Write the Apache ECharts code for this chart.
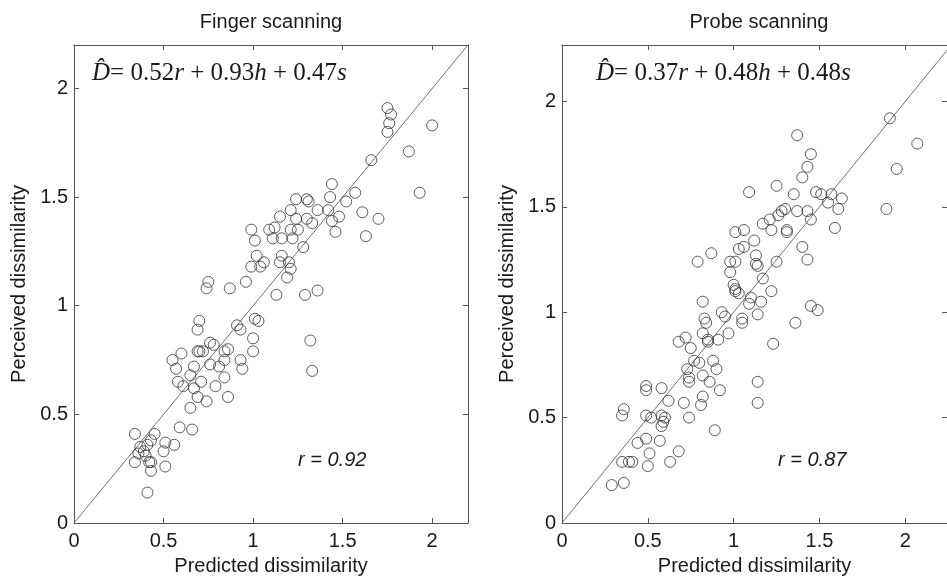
<!DOCTYPE html>
<html>
<head>
<meta charset="utf-8">
<script src="https://cdn.jsdelivr.net/npm/echarts@6/dist/echarts.min.js"></script>
<style>
  html, body { margin: 0; padding: 0; background: #fff; }
  #chart { width: 947px; height: 581px; }
</style>
</head>
<body>
<div id="chart"></div>
<script>
// Tick values shown on both axes of each panel
const tickValues = [0, 0.5, 1, 1.5, 2];

// Finger scanning: predicted vs perceived dissimilarity
const fingerPredicted = [
  1.75, 1.77, 1.76, 1.75, 2.00, 1.87, 1.66, 1.93, 1.44, 1.43,
  1.57, 1.52, 1.24, 1.30, 1.31, 1.21, 1.36, 1.42, 1.61, 1.70,
  1.48, 1.15, 1.24, 1.30, 1.44, 1.33, 0.99, 1.09, 1.12, 1.21,
  1.25, 1.46, 1.63, 1.01, 1.11, 1.16, 1.22, 1.28, 1.02, 1.16,
  0.99, 1.06, 1.04, 1.15, 1.20, 1.21, 1.19, 0.96, 0.75, 0.74,
  0.87, 1.13, 1.29, 1.36, 0.70, 0.69, 0.91, 0.93, 1.01, 1.03,
  1.32, 1.33, 1.00, 1.00, 0.76, 0.78, 0.70, 0.72, 0.69, 0.55,
  0.60, 0.57, 0.65, 0.67, 0.71, 0.58, 0.61, 0.67, 0.69, 0.74,
  0.65, 0.76, 0.81, 0.84, 0.86, 0.84, 0.84, 0.79, 0.86, 0.93,
  0.94, 0.59, 0.66, 0.34, 0.45, 0.43, 0.37, 0.41, 0.51, 0.56,
  0.50, 0.36, 0.40, 0.34, 0.42, 0.43, 0.51, 0.43, 0.41, 0.39
];
const fingerPerceived = [
  1.91, 1.88, 1.84, 1.80, 1.83, 1.71, 1.67, 1.52, 1.56, 1.50,
  1.52, 1.48, 1.49, 1.49, 1.48, 1.44, 1.44, 1.44, 1.43, 1.40,
  1.41, 1.41, 1.40, 1.40, 1.39, 1.38, 1.35, 1.35, 1.36, 1.35,
  1.35, 1.34, 1.32, 1.30, 1.31, 1.31, 1.31, 1.27, 1.23, 1.23,
  1.18, 1.20, 1.18, 1.20, 1.20, 1.17, 1.13, 1.11, 1.11, 1.08,
  1.08, 1.05, 1.05, 1.07, 0.93, 0.89, 0.91, 0.89, 0.94, 0.93,
  0.84, 0.70, 0.85, 0.79, 0.83, 0.82, 0.79, 0.79, 0.79, 0.75,
  0.78, 0.71, 0.68, 0.72, 0.65, 0.65, 0.63, 0.62, 0.58, 0.56,
  0.53, 0.73, 0.72, 0.75, 0.80, 0.79, 0.67, 0.63, 0.58, 0.75,
  0.71, 0.44, 0.43, 0.41, 0.41, 0.38, 0.35, 0.36, 0.37, 0.36,
  0.33, 0.32, 0.31, 0.28, 0.28, 0.28, 0.26, 0.24, 0.14, 0.33
];

// Probe scanning: predicted vs perceived dissimilarity
const probePredicted = [
  1.91, 2.07, 1.95, 1.89, 1.37, 1.45, 1.43, 1.40, 1.25, 1.09,
  1.35, 1.48, 1.51, 1.57, 1.63, 1.55, 1.61, 1.43, 1.45, 1.37,
  1.30, 1.28, 1.26, 1.21, 1.17, 1.22, 1.31, 1.31, 1.59, 1.06,
  1.01, 1.12, 1.06, 1.03, 1.40, 1.43, 1.25, 1.13, 1.13, 1.14,
  0.98, 1.01, 0.87, 0.79, 0.98, 1.00, 1.01, 1.17, 1.22, 0.82,
  1.01, 1.03, 1.10, 1.09, 1.16, 1.14, 1.45, 1.49, 1.36, 1.23,
  0.93, 0.95, 1.05, 1.05, 0.97, 0.83, 0.84, 0.82, 0.85, 0.85,
  0.91, 0.68, 0.72, 0.75, 0.77, 0.80, 0.73, 0.74, 0.74, 0.88,
  0.90, 0.82, 0.86, 0.92, 0.82, 0.81, 0.71, 0.74, 0.89, 1.14,
  1.14, 0.58, 0.62, 0.49, 0.49, 0.36, 0.35, 0.49, 0.52, 0.58,
  0.60, 0.59, 0.58, 0.44, 0.49, 0.57, 0.51, 0.50, 0.63, 0.68,
  0.35, 0.39, 0.41, 0.29, 0.36
];
const probePerceived = [
  1.92, 1.80, 1.68, 1.49, 1.84, 1.75, 1.69, 1.64, 1.60, 1.57,
  1.56, 1.57, 1.56, 1.56, 1.54, 1.52, 1.49, 1.48, 1.44, 1.48,
  1.49, 1.48, 1.46, 1.44, 1.42, 1.39, 1.39, 1.38, 1.40, 1.39,
  1.38, 1.34, 1.31, 1.30, 1.31, 1.25, 1.24, 1.27, 1.23, 1.22,
  1.24, 1.24, 1.28, 1.24, 1.19, 1.13, 1.11, 1.16, 1.10, 1.05,
  1.10, 1.09, 1.07, 1.04, 1.05, 0.99, 1.03, 1.01, 0.95, 0.85,
  1.00, 0.98, 0.97, 0.95, 0.90, 0.97, 0.95, 0.90, 0.87, 0.86,
  0.87, 0.86, 0.88, 0.83, 0.77, 0.76, 0.73, 0.69, 0.67, 0.77,
  0.73, 0.70, 0.67, 0.63, 0.60, 0.56, 0.57, 0.50, 0.44, 0.67,
  0.57, 0.64, 0.58, 0.65, 0.63, 0.54, 0.51, 0.51, 0.50, 0.51,
  0.50, 0.48, 0.46, 0.38, 0.40, 0.39, 0.33, 0.27, 0.29, 0.34,
  0.29, 0.29, 0.29, 0.18, 0.19
];

const panelTitles = ['Finger scanning', 'Probe scanning'];
const correlations = ['r = 0.92', 'r = 0.87'];
const fitWeights = [
  ['0.52', '0.93', '0.47'],
  ['0.37', '0.48', '0.48']
];
const xLabel = 'Predicted dissimilarity';
const yLabel = 'Perceived dissimilarity';

const zip = (a, b) => a.map((v, i) => [v, b[i]]);

const INK = '#1a1a1a';
const FRAME = '#555';
const SANS = '"Liberation Sans", Arial, sans-serif';
const SERIF = '"Liberation Serif", "Times New Roman", serif';

const panels = [
  { left: 74, top: 45, width: 394, height: 479, xMax: 2.2, yMax: 2.2 },
  { left: 562, top: 45, width: 389, height: 480, xMax: 2.243, yMax: 2.268 }
];

function showTick(v) {
  return tickValues.some(t => Math.abs(t - v) < 1e-6);
}

function makeAxis(gridIndex, position, max, withLabels, name) {
  const isX = position === 'bottom' || position === 'top';
  const ax = {
    type: 'value',
    gridIndex,
    position,
    min: 0,
    max,
    interval: 0.5,
    splitLine: { show: false },
    axisLine: { show: true, onZero: false, lineStyle: { color: FRAME, width: 1 } },
    axisTick: { show: true, inside: true, length: 5, lineStyle: { color: FRAME, width: 1 } },
    axisLabel: {
      show: withLabels,
      showMaxLabel: false,
      color: INK,
      fontFamily: SANS,
      fontSize: 20,
      margin: isX ? 8 : 6,
      formatter: v => (showTick(v) ? String(v) : '')
    }
  };
  if (name) {
    ax.name = name;
    ax.nameLocation = 'middle';
    ax.nameGap = isX ? 33 : 45;
    ax.nameTextStyle = { color: INK, fontFamily: SANS, fontSize: 20 };
  }
  return ax;
}

const xAxes = [];
const yAxes = [];
panels.forEach((p, i) => {
  xAxes.push(makeAxis(i, 'bottom', p.xMax, true, xLabel));
  xAxes.push(makeAxis(i, 'top', p.xMax, false, null));
  yAxes.push(makeAxis(i, 'left', p.yMax, true, yLabel));
  yAxes.push(makeAxis(i, 'right', p.yMax, false, null));
});

const datasets = [
  zip(fingerPredicted, fingerPerceived),
  zip(probePredicted, probePerceived)
];

const series = [];
panels.forEach((p, i) => {
  // identity line y = x
  series.push({
    type: 'line',
    xAxisIndex: i * 2,
    yAxisIndex: i * 2,
    data: [[0, 0], [2.4, 2.4]],
    clip: true,
    symbol: 'none',
    silent: true,
    lineStyle: { color: '#707070', width: 1 },
    z: 1
  });
  series.push({
    type: 'scatter',
    xAxisIndex: i * 2,
    yAxisIndex: i * 2,
    data: datasets[i],
    symbol: 'circle',
    symbolSize: 11,
    itemStyle: { color: 'rgba(0,0,0,0)', borderColor: '#333', borderWidth: 1 },
    z: 2
  });
});

const graphics = [];
panels.forEach((p, i) => {
  graphics.push({
    type: 'text',
    x: p.left + (i === 0 ? p.width / 2 : 197),
    y: 22,
    style: {
      text: panelTitles[i],
      fill: INK,
      font: '20px ' + SANS,
      align: 'center',
      verticalAlign: 'middle'
    }
  });
  const w = fitWeights[i];
  graphics.push({
    type: 'text',
    x: p.left + (i === 0 ? 18 : 34),
    y: 73,
    style: {
      text: '{v|D\u0302}= ' + w[0] + '{v|r} + ' + w[1] + '{v|h} + ' + w[2] + '{v|s}',
      fill: INK,
      fontFamily: SERIF,
      fontSize: 25,
      verticalAlign: 'middle',
      rich: {
        v: { fontFamily: SERIF, fontStyle: 'italic', fontSize: 25, fill: INK }
      }
    }
  });
  graphics.push({
    type: 'text',
    x: p.left + (i === 0 ? 224 : 216),
    y: 460,
    style: {
      text: correlations[i],
      fill: INK,
      font: 'italic 20px ' + SANS,
      verticalAlign: 'middle'
    }
  });
});

const chart = echarts.init(document.getElementById('chart'), null, { renderer: 'canvas' });
chart.setOption({
  animation: false,
  backgroundColor: '#fff',
  grid: panels.map(p => ({ left: p.left, top: p.top, width: p.width, height: p.height })),
  xAxis: xAxes,
  yAxis: yAxes,
  series,
  graphic: graphics
});
</script>
</body>
</html>
